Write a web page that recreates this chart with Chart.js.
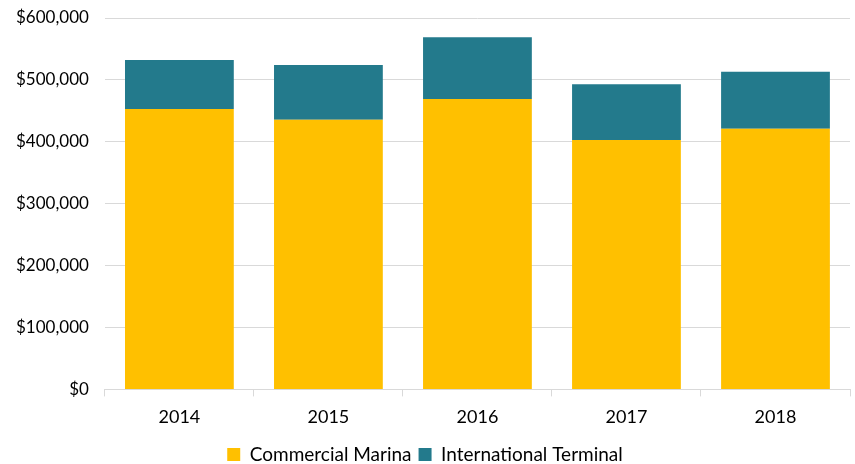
<!DOCTYPE html>
<html>
<head>
<meta charset="utf-8">
<script src="https://cdn.jsdelivr.net/npm/chart.js@4"></script>
<style>
  html, body { margin: 0; padding: 0; background: #fff; }
  #wrap { width: 855px; height: 464px; position: relative; }
</style>
</head>
<body>
<div id="wrap"><canvas id="chart"></canvas></div>
<script>
const years = ['2014', '2015', '2016', '2017', '2018'];
const commercialMarina = [453000, 435500, 469000, 403000, 421000];
const internationalTerminal = [79000, 88500, 100000, 90000, 92000];
const yTicks = [0, 100000, 200000, 300000, 400000, 500000, 600000];

const FONT = 'Lato, "Open Sans", sans-serif';

new Chart(document.getElementById('chart'), {
  type: 'bar',
  data: {
    labels: years,
    datasets: [
      { label: 'Commercial Marina', data: commercialMarina, backgroundColor: '#FFC000', borderWidth: 0, barPercentage: 0.73, categoryPercentage: 1 },
      { label: 'International Terminal', data: internationalTerminal, backgroundColor: '#237A8C', borderWidth: 0, barPercentage: 0.73, categoryPercentage: 1 }
    ]
  },
  options: {
    animation: false,
    responsive: true,
    maintainAspectRatio: false,
    layout: { padding: { top: 18, right: 5, left: 0, bottom: -10 } },
    plugins: {
      legend: {
        position: 'bottom',
        labels: { color: '#000', font: { family: FONT, size: 19 }, boxWidth: 13, boxHeight: 13, padding: 7 }
      },
      tooltip: { enabled: false }
    },
    scales: {
      x: {
        stacked: true,
        grid: { offset: true, drawOnChartArea: false, drawTicks: true, tickLength: 7, color: '#d9d9d9' },
        border: { color: '#d9d9d9' },
        ticks: { color: '#000', font: { family: FONT, size: 18 }, padding: 10 }
      },
      y: {
        stacked: true,
        min: 0,
        max: 600000,
        afterBuildTicks: axis => { axis.ticks = yTicks.map(v => ({ value: v })); },
        afterFit: axis => { axis.paddingTop = 0; axis.paddingBottom = 0; },
        grid: { color: '#d9d9d9', drawTicks: false },
        border: { display: false },
        ticks: {
          color: '#000',
          font: { family: FONT, size: 17 },
          padding: 16,
          callback: v => '$' + v.toLocaleString('en-US')
        }
      }
    }
  }
});
</script>
</body>
</html>
